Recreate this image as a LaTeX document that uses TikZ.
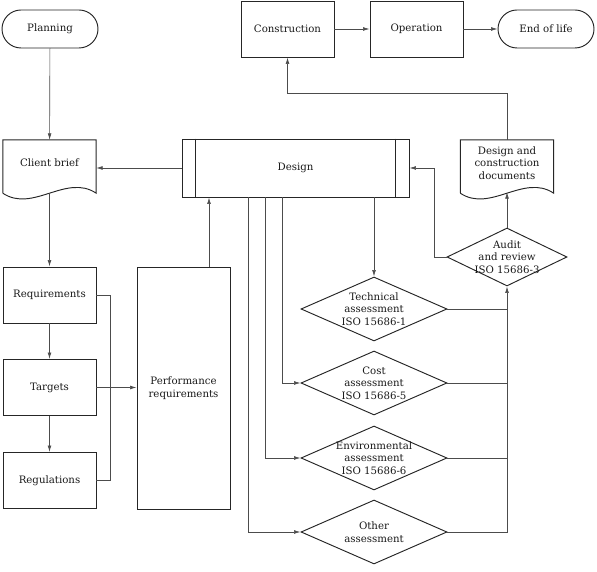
\documentclass[tikz,border=0pt]{standalone}
\usepackage{fontspec}
\setmainfont{DejaVu Serif}
\usetikzlibrary{arrows.meta,shapes.geometric,shapes.misc}

\begin{document}
\begin{tikzpicture}[x=1pt,y=1pt]
\useasboundingbox (0,0) rectangle (597,572);
\tikzstyle{every node}=[font=\fontsize{10.2}{12.7}\selectfont, text=black!90, align=center, inner sep=1pt]
\tikzstyle{outline}=[draw=black!85, line width=.95pt]
\tikzstyle{term}=[outline, rounded rectangle, minimum width=98pt, minimum height=38pt]
\tikzstyle{box}=[outline, rectangle, minimum width=93pt, minimum height=56pt]
\tikzstyle{doc}=[rectangle, minimum width=93pt, minimum height=46pt]
\tikzstyle{decision}=[outline, diamond, aspect=2.28, inner xsep=-8pt, inner ysep=0pt, minimum width=146pt, minimum height=64pt]
\tikzstyle{edge}=[draw=black!70, line width=.65pt]
\tikzstyle{arr}=[edge, -{Latex[length=6.5pt,width=3.8pt]}]
% top row
\draw (50,543) node (pl) [term] {Planning};
\draw (287.5,543) node (con) [box] {Construction};
\draw (416.5,543) node (op) [box] {Operation};
\draw (546,543) node (eol) [term] {End of life};
% documents and design
\draw (49.5,409) node (cb) [doc] {Client brief};
\draw (507,409) node (dcd) [doc] {Design and\\construction\\documents};
\draw (295.5,404) node (des) [box, minimum width=227pt, minimum height=58pt] {Design};
\draw[outline] ([xshift=14pt]des.north west) -- ([xshift=14pt]des.south west);
\draw[outline] ([xshift=-14pt]des.north east) -- ([xshift=-14pt]des.south east);
\draw[outline] ([yshift=-7pt]cb.south west) -- (cb.north west) -- (cb.north east) -- ([yshift=-7pt]cb.south east)
  .. controls +(-30,20) and +(30,-20) .. ([yshift=-7pt]cb.south west);
\draw[outline] ([yshift=-7pt]dcd.south west) -- (dcd.north west) -- (dcd.north east) -- ([yshift=-7pt]dcd.south east)
  .. controls +(-30,20) and +(30,-20) .. ([yshift=-7pt]dcd.south west);
% left column
\draw (49.5,277) node (req) [box] {Requirements};
\draw (49.5,184.5) node (tar) [box] {Targets};
\draw (49.5,91.5) node (reg) [box] {Regulations};
\draw (183.5,184) node (perf) [box, minimum height=242pt] {Performance\\requirements};
% assessments
\draw (374,263) node (tech) [decision] {Technical\\assessment\\ISO 15686-1};
\draw (374,189) node (cost) [decision] {Cost\\assessment\\ISO 15686-5};
\draw (374,114) node (env) [decision] {Environmental\\assessment\\ISO 15686-6};
\draw (374,40) node (oth) [decision] {Other\\assessment};
\draw (507,315) node (aud) [decision, aspect=2.07, minimum width=120pt, minimum height=58pt] {Audit\\and review\\ISO 15686-3};
% connectors
\draw[arr] (pl) -- (cb);
\draw[arr] (con) -- (op);
\draw[arr] (op) -- (eol);
\draw[arr] (des.west) -- (des.west -| cb.east);
\draw[arr] ([yshift=-7pt]cb.south) -- (req);
\draw[arr] (req) -- (tar);
\draw[arr] (tar) -- (reg);
\draw[edge] (req.east) -- ++(14,0) |- (reg.east);
\draw[arr] (tar.east) -- (tar.east -| perf.west);
\draw[arr] ([xshift=25.5pt]perf.north) -- ([xshift=25.5pt]perf.north |- des.south);
\draw[arr] (des.south -| tech) -- (tech);
\draw[arr] ([xshift=-13.5pt]des.south) |- (cost);
\draw[arr] ([xshift=-30.5pt]des.south) |- (env);
\draw[arr] ([xshift=-47.5pt]des.south) |- (oth);
\draw[arr] (oth.east) -| (aud.south);
\draw[edge] (env.east) -- (env.east -| aud.south);
\draw[edge] (cost.east) -- (cost.east -| aud.south);
\draw[edge] (tech.east) -- (tech.east -| aud.south);
\draw[arr] (aud) -- ([yshift=-6pt]dcd.south);
\draw[arr] (aud.west) -- ++(-12,0) |- (des.east);
\draw[arr] (dcd.north) -- ++(0,46) -| (con.south);
\end{tikzpicture}
\end{document}
